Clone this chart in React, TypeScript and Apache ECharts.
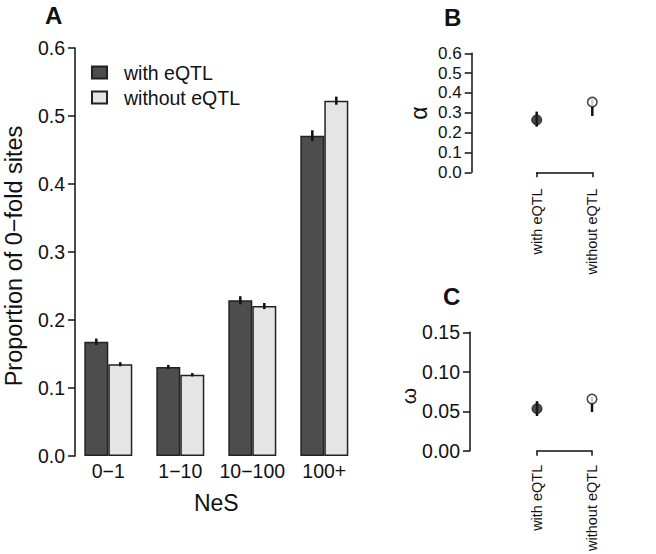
import React, { useEffect, useRef } from "react";
import * as echarts from "echarts";

const categories = ["0−1", "1−10", "10−100", "100+"];
const withEqtl = [0.168, 0.131, 0.229, 0.471];
const withoutEqtl = [0.135, 0.1195, 0.2205, 0.5225];
const withErr = [0.0047, 0.003, 0.006, 0.008];
const withoutErr = [0.003, 0.0025, 0.0045, 0.006];

const groupLabels = ["with eQTL", "without eQTL"];
const alphaEst = [0.264, 0.354];
const alphaLow = [0.23, 0.284];
const alphaHigh = [0.306, 0.372];
const omegaEst = [0.0533, 0.0655];
const omegaLow = [0.044, 0.049];
const omegaHigh = [0.0628, 0.069];

const FONT = "Liberation Sans, Arial, Helvetica, sans-serif";
const INK = "#111";

export default function App() {
  const ref = useRef<HTMLDivElement>(null);
  useEffect(() => {
    document.body.style.margin = "0";
    const chart = echarts.init(ref.current!, null, { renderer: "svg" });

    const barErr = (vals: number[], errs: number[], sign: number) => ({
      type: "custom",
      xAxisIndex: 0,
      yAxisIndex: 0,
      z: 5,
      data: vals.map((v, i) => [i, v - errs[i], v + errs[i]]),
      renderItem: (params: any, api: any) => {
        const p1 = api.coord([api.value(0), api.value(1)]);
        const p2 = api.coord([api.value(0), api.value(2)]);
        const x = p1[0] + sign * 12;
        return {
          type: "line",
          shape: { x1: x, y1: p1[1], x2: x, y2: p2[1] },
          style: { stroke: INK, lineWidth: 2.5 },
        };
      },
    });

    const ciErr = (xi: number, yi: number, lows: number[], highs: number[]) => ({
      type: "custom",
      xAxisIndex: xi,
      yAxisIndex: yi,
      z: 2,
      data: lows.map((l, i) => [i, l, highs[i]]),
      renderItem: (params: any, api: any) => {
        const p1 = api.coord([api.value(0), api.value(1)]);
        const p2 = api.coord([api.value(0), api.value(2)]);
        return {
          type: "line",
          shape: { x1: p1[0], y1: p1[1], x2: p2[0], y2: p2[1] },
          style: { stroke: INK, lineWidth: 2.5 },
        };
      },
    });

    const pts = (xi: number, yi: number, est: number[]) => ({
      type: "scatter",
      xAxisIndex: xi,
      yAxisIndex: yi,
      z: 4,
      data: [
        {
          value: [0, est[0]],
          symbolSize: 10,
          itemStyle: { color: "#1e1e1e", borderColor: INK, borderWidth: 1 },
        },
        {
          value: [1, est[1]],
          symbolSize: 9.5,
          itemStyle: { color: "#fff", borderColor: INK, borderWidth: 1.5 },
        },
      ],
    });

    const axisLineStyle = { lineStyle: { color: INK, width: 1.5 } };
    const tickStyle = { lineStyle: { color: INK, width: 1.5 } };
    const labelStyle = { color: INK, fontSize: 19.5, fontFamily: FONT };

    const smallX = (offset: number) => ({
      type: "category",
      data: groupLabels,
      boundaryGap: false,
      offset,
      axisLine: { show: true, ...axisLineStyle },
      axisTick: { show: true, length: 5, ...tickStyle },
      axisLabel: {
        rotate: 90,
        margin: 10,
        interval: 0,
        color: INK,
        fontSize: 14.5,
        fontFamily: FONT,
      },
      splitLine: { show: false },
    });

    const option: any = {
      animation: false,
      backgroundColor: "#fff",
      textStyle: { fontFamily: FONT },
      grid: [
        { left: 72.3, top: 48, width: 288, height: 408 },
        { left: 536.7, top: 53.3, width: 55.6, height: 119 },
        { left: 537, top: 332.3, width: 55, height: 119.4 },
      ],
      legend: {
        data: ["with eQTL", "without eQTL"],
        orient: "vertical",
        left: 86,
        top: 57.5,
        itemWidth: 15,
        itemHeight: 12,
        itemGap: 5,
        icon: "rect",
        textStyle: {
          color: INK,
          fontSize: 19.5,
          fontFamily: FONT,
          lineHeight: 19,
          padding: [0, 0, 0, 12],
        },
      },
      xAxis: [
        {
          gridIndex: 0,
          type: "category",
          data: categories,
          axisLine: { show: false },
          axisTick: { show: false },
          axisLabel: { ...labelStyle, margin: 5, interval: 0 },
        },
        { gridIndex: 1, ...smallX(6) },
        { gridIndex: 2, ...smallX(4) },
      ],
      yAxis: [
        {
          gridIndex: 0,
          type: "value",
          min: 0,
          max: 0.6,
          interval: 0.1,
          offset: -2.7,
          axisLine: { show: true, ...axisLineStyle },
          axisTick: { show: true, length: 7, ...tickStyle },
          axisLabel: { ...labelStyle, margin: 10, formatter: (v: number) => v.toFixed(1) },
          splitLine: { show: false },
        },
        {
          gridIndex: 1,
          type: "value",
          min: 0,
          max: 0.6,
          interval: 0.1,
          offset: 65,
          axisLine: { show: true, ...axisLineStyle },
          axisTick: { show: true, length: 7, ...tickStyle },
          axisLabel: {
            color: INK,
            fontFamily: FONT,
            fontSize: 17,
            lineHeight: 16,
            margin: 10,
            formatter: (v: number) => v.toFixed(1),
          },
          splitLine: { show: false },
        },
        {
          gridIndex: 2,
          type: "value",
          min: 0,
          max: 0.15,
          interval: 0.05,
          offset: 67,
          axisLine: { show: true, ...axisLineStyle },
          axisTick: { show: true, length: 7, ...tickStyle },
          axisLabel: { ...labelStyle, margin: 10, formatter: (v: number) => v.toFixed(2) },
          splitLine: { show: false },
        },
      ],
      series: [
        {
          name: "with eQTL",
          type: "bar",
          xAxisIndex: 0,
          yAxisIndex: 0,
          data: withEqtl,
          barWidth: 24,
          barGap: "0%",
          itemStyle: { color: "#4d4d4d", borderColor: "#222", borderWidth: 1.5 },
        },
        {
          name: "without eQTL",
          type: "bar",
          xAxisIndex: 0,
          yAxisIndex: 0,
          data: withoutEqtl,
          barWidth: 24,
          barGap: "0%",
          itemStyle: { color: "#e5e5e5", borderColor: "#222", borderWidth: 1.5 },
        },
        barErr(withEqtl, withErr, -1),
        barErr(withoutEqtl, withoutErr, 1),
        ciErr(1, 1, alphaLow, alphaHigh),
        pts(1, 1, alphaEst),
        ciErr(2, 2, omegaLow, omegaHigh),
        pts(2, 2, omegaEst),
      ],
      graphic: [
        { type: "text", left: 45, top: 3, style: { text: "A", fontSize: 24, fontWeight: "bold", fontFamily: FONT, fill: INK } },
        { type: "text", left: 444, top: 5, style: { text: "B", fontSize: 24, fontWeight: "bold", fontFamily: FONT, fill: INK } },
        { type: "text", left: 443, top: 284, style: { text: "C", fontSize: 24, fontWeight: "bold", fontFamily: FONT, fill: INK } },
        {
          type: "text",
          x: 14,
          y: 256,
          rotation: Math.PI / 2,
          style: {
            text: "Proportion of 0−fold sites",
            fontSize: 23.5,
            fontFamily: FONT,
            fill: INK,
            align: "center",
            verticalAlign: "middle",
          },
        },
        {
          type: "text",
          x: 216.3,
          y: 503,
          style: { text: "NeS", fontSize: 23, fontFamily: FONT, fill: INK, align: "center", verticalAlign: "middle" },
        },
        {
          type: "text",
          x: 419,
          y: 113,
          rotation: Math.PI / 2,
          style: { text: "α", fontSize: 23, fontFamily: FONT, fill: INK, align: "center", verticalAlign: "middle" },
        },
        {
          type: "text",
          x: 408,
          y: 396,
          rotation: Math.PI / 2,
          style: { text: "ω", fontSize: 21, fontFamily: FONT, fill: INK, align: "center", verticalAlign: "middle" },
        },
      ],
    };
    chart.setOption(option);
    return () => chart.dispose();
  }, []);
  return <div ref={ref} style={{ width: 656, height: 554 }} />;
}
